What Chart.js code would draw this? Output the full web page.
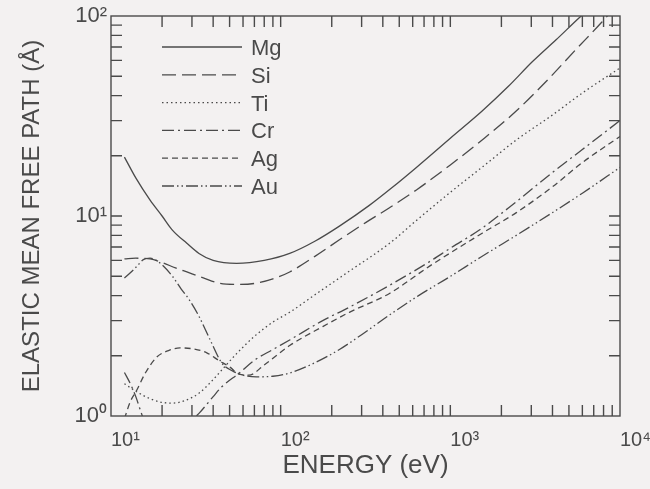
<!DOCTYPE html>
<html>
<head>
<meta charset="utf-8">
<script src="https://cdn.jsdelivr.net/npm/chart.js@4"></script>
<style>
  html, body { margin: 0; padding: 0; background: #f3f1f1; }
  #wrap { width: 650px; height: 489px; }
</style>
</head>
<body>
<div id="wrap"><canvas id="mfpChart" width="650" height="489"></canvas></div>
<script>
// Energías (eV) y caminos libres medios (Å)
const mgE = [12, 14, 17, 20, 23, 28, 33, 40, 55, 80, 113, 160, 222, 333, 450, 631, 1000, 1540, 2200, 3040, 4200, 5750, 8000, 10000];
const mgL = [19.7, 15.5, 12, 10, 8.5, 7.3, 6.5, 6.0, 5.8, 6.0, 6.5, 7.5, 8.9, 11.3, 13.8, 17.5, 24.5, 33.5, 44.5, 59, 76, 98, 126, 150];

const siE = [12, 14, 17, 20, 24, 29, 35, 44, 55, 70, 90, 113, 160, 222, 300, 438, 631, 1000, 1540, 2400, 3840, 5500, 7800, 10000];
const siL = [6.1, 6.15, 6.1, 5.85, 5.5, 5.2, 4.9, 4.6, 4.55, 4.6, 4.85, 5.25, 6.3, 7.6, 9.0, 11, 13.5, 18, 24, 33, 49, 68, 93, 118];

const tiE = [12, 14, 17, 20, 23, 27, 33, 40, 45, 55, 70, 90, 113, 160, 254, 438, 631, 985, 1600, 2450, 4000, 5950, 10000];
const tiL = [1.45, 1.33, 1.22, 1.17, 1.16, 1.19, 1.30, 1.52, 1.7, 2.05, 2.5, 2.95, 3.3, 4.05, 5.3, 7.3, 9.5, 13, 18, 24, 32, 41, 55];

const crE = [12, 13, 14, 15, 16, 20, 25, 30, 33, 40, 45, 57, 70, 90, 113, 177, 254, 438, 751, 1000, 1540, 2450, 4000, 6000, 10000];
const crL = [1.65, 1.45, 1.25, 1.05, 0.9, 0.6, 0.72, 0.95, 1.03, 1.25, 1.4, 1.64, 1.9, 2.15, 2.4, 3.0, 3.5, 4.5, 5.9, 6.9, 8.7, 11.8, 16.5, 21.5, 30];

const agE = [12, 13, 14.2, 16, 18.6, 22, 25.5, 30, 36.7, 43, 50, 57, 65, 80, 113, 177, 254, 438, 751, 1540, 2450, 4000, 5950, 10000];
const agL = [0.97, 1.18, 1.35, 1.65, 1.97, 2.13, 2.19, 2.17, 2.07, 1.9, 1.76, 1.62, 1.6, 1.8, 2.25, 2.8, 3.3, 4.1, 5.6, 8.2, 10.4, 14, 18.4, 25];

const auE = [12, 13, 14.2, 15.5, 17, 18.5, 20, 23, 26, 29, 33, 38, 45, 52, 60, 72, 90, 113, 160, 222, 300, 438, 650, 985, 1500, 2930, 6000, 10000];
const auL = [4.9, 5.2, 5.6, 6.05, 6.15, 6.0, 5.7, 5.0, 4.3, 3.8, 3.15, 2.45, 1.84, 1.68, 1.6, 1.57, 1.58, 1.64, 1.85, 2.15, 2.55, 3.2, 4.0, 4.95, 6.2, 8.8, 13, 17.5];

const xTickValues = [10, 100, 1000, 10000];
const yTickValues = [1, 10, 100];
const supers = { 0: '\u2070', 1: '\u00B9', 2: '\u00B2', 3: '\u00B3', 4: '\u2074' };

const INK = '#4a4a4a';
const FONT = "'Liberation Sans', Arial, sans-serif";

function serie(label, E, L, dash) {
    return {
        label: label,
        data: E.map((e, i) => ({ x: e, y: L[i] })),
        borderColor: INK,
        borderWidth: 1.3,
        borderDash: dash,
        pointRadius: 0,
        cubicInterpolationMode: 'monotone',
        fill: false
    };
}

function potencia(v) {
    const n = Math.round(Math.log10(v));
    return '10' + supers[n];
}

// Marcas hacia dentro, marco y leyenda
const marcoPlugin = {
    id: 'marco',
    afterDatasetsDraw(chart) {
        const ctx = chart.ctx;
        const a = chart.chartArea;
        const xs = chart.scales.x, ys = chart.scales.y;
        const len = 11;
        ctx.save();
        ctx.strokeStyle = INK;
        ctx.lineWidth = 1.4;
        ctx.setLineDash([]);
        ctx.strokeRect(a.left, a.top, a.right - a.left, a.bottom - a.top);
        ctx.beginPath();
        for (let d = 10; d < 10000; d *= 10) {
            for (let k = 1; k <= 9; k++) {
                const v = d * k;
                if (v <= 10) continue;
                const px = xs.getPixelForValue(v);
                ctx.moveTo(px, a.bottom); ctx.lineTo(px, a.bottom - len);
                ctx.moveTo(px, a.top); ctx.lineTo(px, a.top + len);
            }
        }
        for (let d = 1; d < 100; d *= 10) {
            for (let k = 1; k <= 9; k++) {
                const v = d * k;
                if (v <= 1) continue;
                const py = ys.getPixelForValue(v);
                ctx.moveTo(a.left, py); ctx.lineTo(a.left + len, py);
                ctx.moveTo(a.right, py); ctx.lineTo(a.right - len, py);
            }
        }
        ctx.stroke();

        ctx.font = '22px ' + FONT;
        ctx.fillStyle = INK;
        ctx.textBaseline = 'middle';
        ctx.textAlign = 'left';
        chart.data.datasets.forEach((ds, i) => {
            const y = 47 + i * 27.8;
            ctx.beginPath();
            ctx.setLineDash(ds.borderDash || []);
            ctx.lineWidth = 1.3;
            ctx.moveTo(162, y);
            ctx.lineTo(242, y);
            ctx.stroke();
            ctx.fillText(ds.label, 251, y + 2);
        });
        ctx.restore();
    }
};

document.addEventListener('DOMContentLoaded', function() {
    new Chart(document.getElementById('mfpChart'), {
        type: 'line',
        data: {
            datasets: [
                serie('Mg', mgE, mgL, []),
                serie('Si', siE, siL, [14, 6]),
                serie('Ti', tiE, tiL, [1.5, 3]),
                serie('Cr', crE, crL, [12, 4, 2, 4]),
                serie('Ag', agE, agL, [6, 4]),
                serie('Au', auE, auL, [12, 3, 1.5, 3, 1.5, 3])
            ]
        },
        options: {
            responsive: false,
            animation: false,
            devicePixelRatio: 1,
            layout: { padding: { left: 0, right: 30, top: 16, bottom: 0 } },
            plugins: {
                legend: { display: false },
                tooltip: { enabled: false }
            },
            scales: {
                x: {
                    type: 'logarithmic',
                    min: 10,
                    max: 10000,
                    grid: { display: false, drawTicks: false },
                    border: { display: false },
                    afterBuildTicks: s => { s.ticks = xTickValues.map(v => ({ value: v })); },
                    afterFit: s => { s.height = 73; s.paddingLeft = 0; s.paddingRight = 0; },
                    ticks: {
                        autoSkip: false,
                        maxRotation: 0,
                        align: 'start',
                        padding: 12,
                        color: INK,
                        font: { family: FONT, size: 20 },
                        callback: v => potencia(v)
                    },
                    title: {
                        display: true,
                        text: 'ENERGY (eV)',
                        color: INK,
                        font: { family: FONT, size: 26 },
                        padding: { top: 0, bottom: 8 }
                    }
                },
                y: {
                    type: 'logarithmic',
                    min: 1,
                    max: 100,
                    grid: { display: false, drawTicks: false },
                    border: { display: false },
                    afterBuildTicks: s => { s.ticks = yTickValues.map(v => ({ value: v })); },
                    afterFit: s => { s.width = 111; s.paddingTop = 0; s.paddingBottom = 0; },
                    ticks: {
                        autoSkip: false,
                        padding: 4,
                        color: INK,
                        font: { family: FONT, size: 22 },
                        callback: v => potencia(v)
                    },
                    title: {
                        display: true,
                        text: 'ELASTIC MEAN FREE PATH (Å)',
                        color: INK,
                        font: { family: FONT, size: 24 },
                        padding: { top: 18, bottom: 0 }
                    }
                }
            }
        },
        plugins: [marcoPlugin]
    });
});
</script>
</body>
</html>
